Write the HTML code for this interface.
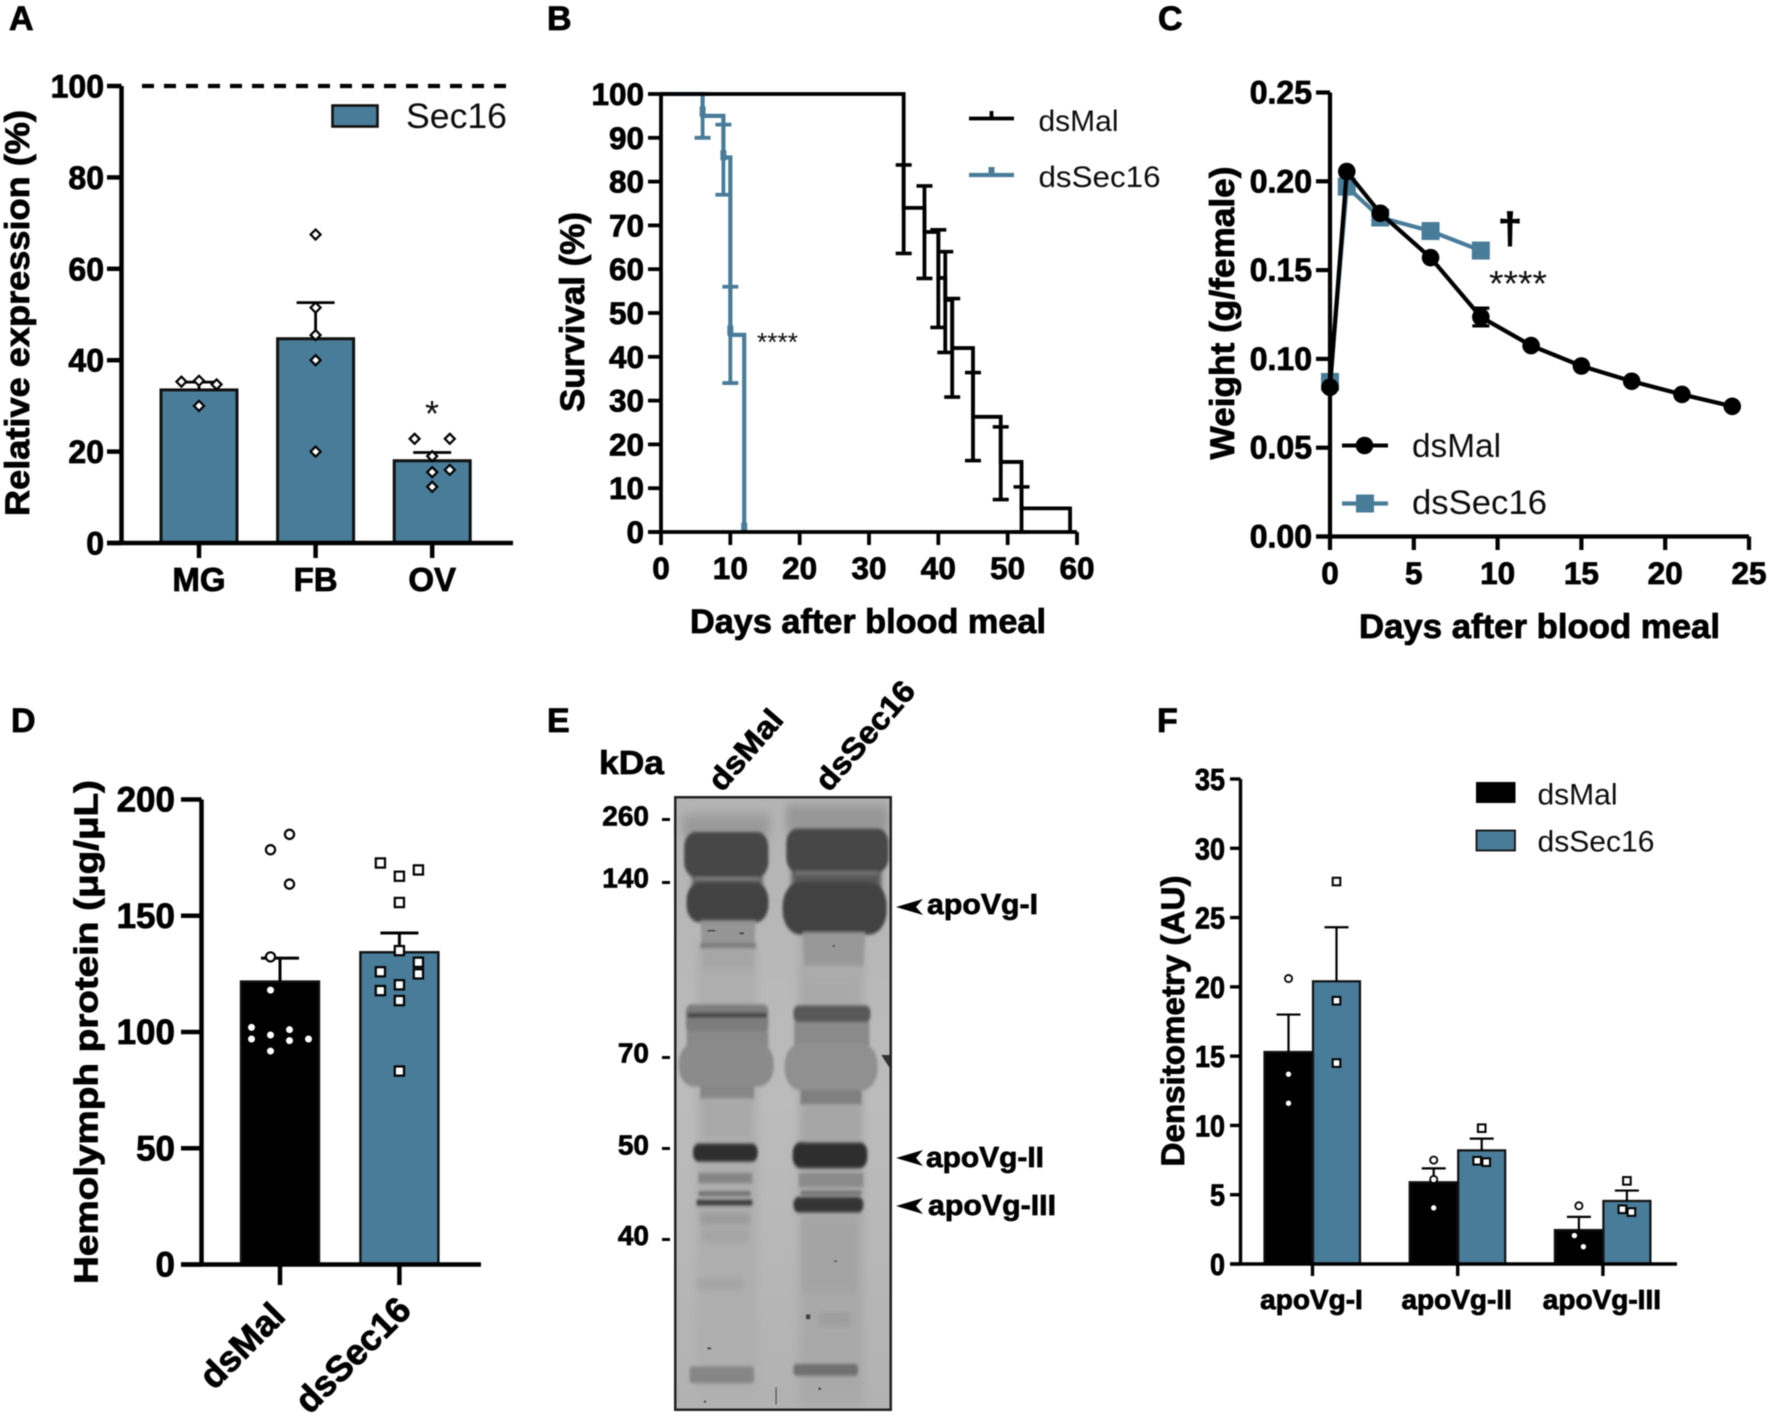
<!DOCTYPE html>
<html lang="en">
<head>
<meta charset="utf-8">
<title>Sec16 figure panels A-F</title>
<style>
html,body{margin:0;padding:0;background:#fff;}
#figure{display:block;width:1772px;height:1417px;font-family:"Liberation Sans",Arial,sans-serif;filter:blur(.45px);}
.bold{font-weight:700;fill:#000;stroke:#000;stroke-width:.8px;}
.reg{font-weight:400;fill:#0c0c0c;}
.gel-label{font-weight:700;fill:#000;stroke:#000;stroke-width:.7px;}
</style>
</head>
<body>
<svg id="figure" xmlns="http://www.w3.org/2000/svg" width="1772" height="1417" viewBox="0 0 1772 1417">
  <defs>
    <filter id="b3" x="-30%" y="-60%" width="160%" height="220%"><feGaussianBlur stdDeviation="3.5"/></filter>
    <filter id="b6" x="-30%" y="-60%" width="160%" height="220%"><feGaussianBlur stdDeviation="7"/></filter>
    <filter id="b12" x="-30%" y="-60%" width="160%" height="220%"><feGaussianBlur stdDeviation="12"/></filter>
    <clipPath id="gelClip"><rect x="674" y="796" width="218" height="615"/></clipPath>
    <linearGradient id="gelBg" x1="0" y1="0" x2="0" y2="1">
      <stop offset="0" stop-color="#b4b4b4"/><stop offset=".5" stop-color="#bcbcbc"/><stop offset="1" stop-color="#b2b2b2"/>
    </linearGradient>
  </defs>

  <!-- panel letters -->
  <text class="bold" x="9" y="30" font-size="34">A</text>
  <text class="bold" x="547" y="30" font-size="34">B</text>
  <text class="bold" x="1158" y="30" font-size="34">C</text>
  <text class="bold" x="11" y="732" font-size="34">D</text>
  <text class="bold" x="547" y="732" font-size="34">E</text>
  <text class="bold" x="1157" y="732" font-size="34">F</text>

  <!-- axis titles and annotations -->
  <text class="bold" transform="translate(29 313) rotate(-90)" text-anchor="middle" font-size="34" textLength="406" lengthAdjust="spacingAndGlyphs">Relative expression (%)</text>
  <text class="reg" x="406" y="128" font-size="35" textLength="101" lengthAdjust="spacingAndGlyphs">Sec16</text>
  <text class="reg" x="432" y="426" text-anchor="middle" font-size="36">*</text>

  <text class="bold" transform="translate(584 312) rotate(-90)" text-anchor="middle" font-size="34" textLength="200" lengthAdjust="spacingAndGlyphs">Survival (%)</text>
  <text class="bold" x="690" y="633" font-size="34" textLength="356" lengthAdjust="spacingAndGlyphs">Days after blood meal</text>
  <text class="reg" x="1038.5" y="131" font-size="30" textLength="80" lengthAdjust="spacingAndGlyphs">dsMal</text>
  <text class="reg" x="1038.5" y="187" font-size="30" textLength="122" lengthAdjust="spacingAndGlyphs">dsSec16</text>
  <text class="reg" x="757" y="351" font-size="26" textLength="41" lengthAdjust="spacingAndGlyphs">****</text>

  <text class="bold" transform="translate(1234 313) rotate(-90)" text-anchor="middle" font-size="34" textLength="293" lengthAdjust="spacingAndGlyphs">Weight (g/female)</text>
  <text class="bold" x="1359" y="638" font-size="34" textLength="361" lengthAdjust="spacingAndGlyphs">Days after blood meal</text>
  <text class="reg" x="1412" y="457" font-size="33" textLength="89" lengthAdjust="spacingAndGlyphs">dsMal</text>
  <text class="reg" x="1412" y="514" font-size="34" textLength="135" lengthAdjust="spacingAndGlyphs">dsSec16</text>
  <text class="bold" x="1510" y="243" text-anchor="middle" font-size="44">†</text>
  <text class="reg" x="1489" y="296" font-size="36" textLength="58" lengthAdjust="spacingAndGlyphs">****</text>

  <text class="bold" transform="translate(97.5 1032) rotate(-90)" text-anchor="middle" font-size="33" textLength="504" lengthAdjust="spacingAndGlyphs">Hemolymph protein (μg/μL)</text>
  <text class="bold" transform="translate(287 1318) rotate(-45)" text-anchor="end" font-size="36" textLength="103" lengthAdjust="spacingAndGlyphs">dsMal</text>
  <text class="bold" transform="translate(413 1312) rotate(-45)" text-anchor="end" font-size="36" textLength="146" lengthAdjust="spacingAndGlyphs">dsSec16</text>

  <text class="bold" transform="translate(1184 1021) rotate(-90)" text-anchor="middle" font-size="32" textLength="291" lengthAdjust="spacingAndGlyphs">Densitometry (AU)</text>
  <text class="reg" x="1537.5" y="804.5" font-size="30" textLength="80" lengthAdjust="spacingAndGlyphs">dsMal</text>
  <text class="reg" x="1537.5" y="851.5" font-size="30" textLength="117" lengthAdjust="spacingAndGlyphs">dsSec16</text>

  <!-- panel E: gel image -->
  <g>
    <text class="gel-label" x="599" y="774" font-size="33" textLength="65" lengthAdjust="spacingAndGlyphs">kDa</text>
    <text class="gel-label" transform="translate(722 793) rotate(-49)" font-size="31" textLength="96" lengthAdjust="spacingAndGlyphs">dsMal</text>
    <text class="gel-label" transform="translate(829 793) rotate(-49)" font-size="31" textLength="134" lengthAdjust="spacingAndGlyphs">dsSec16</text>

    <text class="gel-label" x="649" y="825.5" text-anchor="end" font-size="28">260</text>
    <text class="gel-label" x="649" y="887.5" text-anchor="end" font-size="28">140</text>
    <text class="gel-label" x="649" y="1062.5" text-anchor="end" font-size="28">70</text>
    <text class="gel-label" x="649" y="1154.5" text-anchor="end" font-size="28">50</text>
    <text class="gel-label" x="649" y="1245" text-anchor="end" font-size="28">40</text>
    <g fill="#000">
      <rect x="662" y="818" width="8" height="3"/><rect x="662" y="881" width="8" height="3"/>
      <rect x="662" y="1056" width="8" height="3"/><rect x="662" y="1147" width="8" height="3"/>
      <rect x="662" y="1238" width="8" height="3"/>
    </g>

    <g clip-path="url(#gelClip)">
      <rect x="674" y="796" width="218" height="615" fill="url(#gelBg)"/>
      <g transform="translate(539 680) scale(.3584 .4717)">
        <!-- lane backgrounds -->
        <rect x="440" y="560" width="170" height="950" fill="#aeaeae" filter="url(#b12)"/>
        <rect x="725" y="540" width="180" height="1000" fill="#a9a9a9" filter="url(#b12)"/>
        <rect x="400" y="285" width="245" height="50" fill="#9a9a9a" filter="url(#b12)"/>
        <rect x="690" y="265" width="285" height="60" fill="#969696" filter="url(#b12)"/>
        <!-- lane 1 -->
        <g filter="url(#b6)">
          <rect x="428" y="380" width="195" height="90" fill="#5a5a5a"/>
          <rect x="705" y="370" width="250" height="100" fill="#585858"/>
        </g>
        <g filter="url(#b3)">
          <rect x="405" y="322" width="235" height="96" rx="32" fill="#464646"/>
          <rect x="412" y="430" width="228" height="84" rx="36" fill="#424242"/>
          <path d="M450 510H605L600 570H455Z" fill="#959595"/>
          <rect x="450" y="558" width="155" height="12" fill="#7c7c7c"/>
          <rect x="410" y="688" width="230" height="60" rx="14" fill="#7d7d7d"/>
          <rect x="415" y="706" width="220" height="9" fill="#3a3a3a"/>
          <rect x="412" y="745" width="228" height="32" fill="#898989"/>
          <rect x="390" y="770" width="265" height="92" rx="42" fill="#8b8b8b"/>
          <rect x="450" y="860" width="150" height="28" fill="#868686"/>
          <rect x="430" y="983" width="180" height="38" rx="16" fill="#2d2d2d"/>
          <rect x="445" y="1045" width="150" height="22" fill="#858585"/>
          <rect x="445" y="1084" width="145" height="10" fill="#707070"/>
          <rect x="440" y="1102" width="155" height="12" fill="#3a3a3a"/>
          <rect x="420" y="1455" width="180" height="36" rx="8" fill="#868686"/>
        </g>
        <g filter="url(#b6)">
          <rect x="455" y="572" width="145" height="40" fill="#a6a6a6"/>
          <rect x="460" y="890" width="130" height="80" fill="#a8a8a8"/>
          <rect x="450" y="1130" width="140" height="24" fill="#9b9b9b"/>
          <rect x="455" y="1165" width="130" height="28" fill="#a4a4a4"/>
          <rect x="440" y="1268" width="130" height="24" fill="#a5a5a5"/>
        </g>
        <!-- lane 2 -->
        <g filter="url(#b3)">
          <rect x="690" y="315" width="285" height="92" rx="30" fill="#474747"/>
          <rect x="680" y="428" width="290" height="112" rx="50" fill="#424242"/>
          <path d="M735 535H910L905 607H742Z" fill="#989898"/>
          <rect x="710" y="690" width="215" height="36" rx="14" fill="#585858"/>
          <rect x="712" y="725" width="210" height="50" fill="#8a8a8a"/>
          <rect x="685" y="770" width="260" height="100" rx="46" fill="#909090"/>
          <rect x="730" y="870" width="170" height="30" fill="#7f7f7f"/>
          <rect x="708" y="980" width="208" height="55" rx="22" fill="#2e2e2e"/>
          <rect x="725" y="1045" width="180" height="30" fill="#8a8a8a"/>
          <rect x="730" y="1083" width="170" height="9" fill="#707070"/>
          <rect x="710" y="1096" width="195" height="33" rx="15" fill="#343434"/>
          <rect x="710" y="1450" width="180" height="25" rx="8" fill="#6f6f6f"/>
        </g>
        <g filter="url(#b6)">
          <rect x="745" y="608" width="150" height="30" fill="#acacac"/>
          <rect x="740" y="905" width="155" height="70" fill="#a6a6a6"/>
          <rect x="735" y="1140" width="150" height="160" fill="#a4a4a4"/>
          <rect x="780" y="1340" width="90" height="30" fill="#9f9f9f"/>
        </g>
        <!-- light lines between dark bands -->
        <rect x="435" y="418" width="180" height="6" fill="#828282" filter="url(#b3)"/>
        <rect x="715" y="405" width="230" height="8" fill="#757575" filter="url(#b3)"/>
        <!-- notch and specks -->
        <polygon points="955,795 985,795 985,830" fill="#333"/>
        <g fill="#444">
          <rect x="470" y="1415" width="10" height="4"/><rect x="660" y="1500" width="3" height="36"/>
          <rect x="745" y="1345" width="12" height="10"/><rect x="560" y="535" width="12" height="4"/>
          <rect x="470" y="530" width="22" height="3"/><rect x="825" y="1230" width="5" height="4"/>
          <rect x="820" y="562" width="5" height="4"/><rect x="875" y="498" width="8" height="4"/>
          <rect x="780" y="1500" width="6" height="5"/><rect x="460" y="1528" width="6" height="4"/>
        </g>
      </g>
      <rect x="674" y="796" width="218" height="615" fill="none" stroke="#222" stroke-width="5"/>
    </g>

    <polygon points="923,899 896,907 923,915 916,907" fill="#000"/>
    <polygon points="923,1150 896,1158 923,1166 916,1158" fill="#000"/>
    <polygon points="923,1198 896,1206 923,1214 916,1206" fill="#000"/>
    <text class="gel-label" x="927" y="914" font-size="29" textLength="111" lengthAdjust="spacingAndGlyphs">apoVg-I</text>
    <text class="gel-label" x="926" y="1167" font-size="29" textLength="118" lengthAdjust="spacingAndGlyphs">apoVg-II</text>
    <text class="gel-label" x="928" y="1215" font-size="29" textLength="128" lengthAdjust="spacingAndGlyphs">apoVg-III</text>
  </g>
  <g id="charts"></g>
</svg>

<script>
// ---------- Panel A data ----------
const aCategories = ['MG', 'FB', 'OV'];
const aMeans = [33.5, 44.7, 18];
const aErrorTops = [35.2, 52.6, 19.8];
const aPoints = [[35.3, 35.5, 34.7, 30], [67.5, 51.5, 45.5, 40, 20], [22.8, 22.8, 19, 16, 15.5, 12.3]];
const aSwarmColumns = [[-1, 0, 1, 0], [0, 0, 0, 0, 0], [-1, 1, 0, 1, 0, 0]];
const aYTicks = [0, 20, 40, 60, 80, 100];
const aReferenceLevel = [100];

// ---------- Panel B data ----------
const bXTicks = [0, 10, 20, 30, 40, 50, 60];
const bYTicks = [0, 10, 20, 30, 40, 50, 60, 70, 80, 90, 100];
const bMalDays = [0, 35, 38, 40, 41, 42, 45, 49, 52, 59];
const bMalSurvival = [100, 74, 68.5, 58, 53, 42, 26.3, 16, 5.4, 0];
const bMalErrorDays = [35, 38, 40, 41, 42, 45, 49, 52];
const bMalErrorUpper = [83.8, 79, 69, 64, 53.3, 36.4, 24, 10.3];
const bMalErrorLower = [63.6, 57.9, 46.7, 41, 30.8, 16.3, 7.4, 0];
const bSecDays = [0, 6, 9, 10, 12];
const bSecSurvival = [100, 95, 85.5, 45, 0];
const bSecErrorDays = [6, 9, 10];
const bSecErrorUpper = [100, 93, 56];
const bSecErrorLower = [90, 77, 34];
const bSecCensorDays = [6, 9, 10, 12];
const bSecCensorLevels = [96, 86, 46, 1];

// ---------- Panel C data ----------
const cXTicks = [0, 5, 10, 15, 20, 25];
const cYTicks = ['0.00', '0.05', '0.10', '0.15', '0.20', '0.25'];
const cMalDays = [0, 1, 3, 6, 9, 12, 15, 18, 21, 24];
const cMalWeight = [0.084, 0.2055, 0.182, 0.157, 0.1236, 0.1075, 0.096, 0.0874, 0.08, 0.0733];
const cMalError = [0, 0, 0, 0, 0.005, 0, 0, 0, 0, 0];
const cSecDays = [0, 1, 3, 6, 9];
const cSecWeight = [0.087, 0.197, 0.1796, 0.172, 0.161];

// ---------- Panel D data ----------
const dGroups = ['dsMal', 'dsSec16'];
const dMeans = [121.7, 134.3];
const dErrorTops = [131.8, 142.6];
const dYTicks = [0, 50, 100, 150, 200];
const dMalPoints = [185, 178.4, 163.6, 132.3, 118, 102, 101, 98.7, 97, 96.3, 97, 91.8];
const dMalSwarm = [0.5, -0.5, 0.5, -0.5, -0.5, -1.5, 0.5, -0.5, -1.5, 0.5, 1.5, -0.5];
const dSecPoints = [172.7, 169.7, 167, 155.7, 135, 130, 125.9, 125, 120.3, 117.8, 113.5, 83.2];
const dSecSwarm = [-1, 1, 0, 0, 0, 1, -1, 1, 0, -1, 0, 0];

// ---------- Panel F data ----------
const fCategories = ['apoVg-I', 'apoVg-II', 'apoVg-III'];
const fYTicks = [0, 5, 10, 15, 20, 25, 30, 35];
const fMalMeans = [15.3, 5.9, 2.45];
const fSecMeans = [20.4, 8.2, 4.55];
const fMalErrorTops = [18, 6.9, 3.4];
const fSecErrorTops = [24.3, 9.05, 5.3];
const fMalPoints = [[20.6, 13.7, 11.6], [7.5, 6.1, 4.05], [4.2, 2.05, 1.25]];
const fMalSwarm = [[0, 0, 0], [0, 0, 0], [0, -1, 1]];
const fSecPoints = [[27.6, 19, 14.5], [9.8, 7.45, 7.35], [6, 3.95, 3.75]];
const fSecSwarm = [[0, 0, 0], [0, -1, 1], [0, -1, 1]];

// ---------- helpers ----------
const TEAL = '#497c99';
const INK = '#000';
const svgNS = 'http://www.w3.org/2000/svg';
const root = document.getElementById('charts');

function linear(d0, d1, r0, r1) {
  return function (v) { return r0 + (v - d0) * (r1 - r0) / (d1 - d0); };
}
function mk(tag, props, parent) {
  const el = document.createElementNS(svgNS, tag);
  for (const k in props) el.setAttribute(k, props[k]);
  (parent || root).appendChild(el);
  return el;
}
function tag(el, name) {
  
  
  return el;
}
function line(x1, y1, x2, y2, color, w, name) {
  return tag(mk('line', { x1: x1, y1: y1, x2: x2, y2: y2, stroke: color, 'stroke-width': w }), name);
}
function rect(x, y, w, h, fill, stroke, sw, name) {
  return tag(mk('rect', { x: x, y: y, width: w, height: h, fill: fill, stroke: stroke, 'stroke-width': sw }), name);
}
function label(str, x, y, size, anchor, name, len) {
  const t = mk('text', { x: x, y: y, 'font-size': size, 'text-anchor': anchor, 'class': 'bold' });
  if (len) {
    t.setAttribute('textLength', len);
    t.setAttribute('lengthAdjust', 'spacingAndGlyphs');
  }
  t.textContent = str;
  return tag(t, name);
}
function steps(xs, ys) {
  let d = 'M' + xs[0] + ' ' + ys[0];
  for (let i = 1; i < xs.length; i++) d += 'H' + xs[i] + 'V' + ys[i];
  return d;
}
function errorBar(x, yTop, yBottom, halfCap, color, w, name) {
  line(x, yTop, x, yBottom, color, w, name + '-stem');
  line(x - halfCap, yTop, x + halfCap, yTop, color, w, name + '-cap');
}

// ---------- Panel A ----------
(function () {
  const y = linear(0, 100, 543, 86);
  const x = function (i) { return 199 + i * 116.6; };
  const axisX = 121.5;
  aCategories.forEach(function (c, i) {
    rect(x(i) - 38, y(aMeans[i]), 76, y(0) - y(aMeans[i]), TEAL, '#111', 3, 'a-bar-' + c);
    errorBar(x(i), y(aErrorTops[i]), y(aMeans[i]), 19, INK, 2.8, 'a-error-' + c);
  });
  aPoints.forEach(function (vals, i) {
    vals.forEach(function (v, j) {
      const cx = x(i) + aSwarmColumns[i][j] * 17.6;
      const cy = y(v);
      const p = mk('polygon', {
        points: cx + ',' + (cy - 5) + ' ' + (cx + 5) + ',' + cy + ' ' + cx + ',' + (cy + 5) + ' ' + (cx - 5) + ',' + cy,
        fill: '#fff', stroke: INK, 'stroke-width': 2.2
      });
      tag(p, 'a-point-' + aCategories[i]);
    });
  });
  line(axisX, y(0), axisX, y(100), INK, 4.5, 'a-y-axis');
  line(107, y(0), 513, y(0), INK, 4.5, 'a-x-axis');
  aYTicks.forEach(function (t) {
    line(107, y(t), axisX, y(t), INK, 4.5, 'a-y-tick');
    label(String(t), 104, y(t) + 11.5, 32, 'end', 'a-y-tick-label');
  });
  aCategories.forEach(function (c, i) {
    line(x(i), y(0), x(i), 558, INK, 4.5, 'a-x-tick');
    label(c, x(i), 591, 33, 'middle', 'a-x-tick-label');
  });
  const ref = line(142, y(aReferenceLevel[0]), 510, y(aReferenceLevel[0]), INK, 4.2, 'a-reference-line');
  ref.setAttribute('stroke-dasharray', '12 10');
  rect(332.5, 105.5, 45, 21, TEAL, '#111', 2.6, 'a-legend-swatch');
})();

// ---------- Panel B ----------
(function () {
  const x = linear(0, 60, 661, 1077);
  const y = linear(0, 100, 532, 94);
  const secPath = mk('path', { d: steps(bSecDays.map(x), bSecSurvival.map(y)), fill: 'none', stroke: TEAL, 'stroke-width': 4.2 });
  tag(secPath, 'b-curve-dssec16');
  bSecErrorDays.forEach(function (d, i) {
    line(x(d), y(bSecErrorUpper[i]), x(d), y(bSecErrorLower[i]), TEAL, 3.8, 'b-error-stem-dssec16');
    line(x(d) - 8, y(bSecErrorUpper[i]), x(d) + 8, y(bSecErrorUpper[i]), TEAL, 3.8, 'b-error-cap-dssec16');
    line(x(d) - 8, y(bSecErrorLower[i]), x(d) + 8, y(bSecErrorLower[i]), TEAL, 3.8, 'b-error-cap-dssec16');
  });
  bSecCensorDays.forEach(function (d, i) {
    rect(x(d) - 3, y(bSecCensorLevels[i]) - 5, 6, 10, TEAL, 'none', 0, 'b-censor-dssec16');
  });
  const malPath = mk('path', { d: steps(bMalDays.map(x), bMalSurvival.map(y)), fill: 'none', stroke: INK, 'stroke-width': 3.8 });
  tag(malPath, 'b-curve-dsmal');
  bMalErrorDays.forEach(function (d, i) {
    line(x(d), y(bMalErrorUpper[i]), x(d), y(bMalErrorLower[i]), INK, 3.8, 'b-error-stem-dsmal');
    line(x(d) - 8, y(bMalErrorUpper[i]), x(d) + 8, y(bMalErrorUpper[i]), INK, 3.6, 'b-error-cap-dsmal');
    line(x(d) - 8, y(bMalErrorLower[i]), x(d) + 8, y(bMalErrorLower[i]), INK, 3.6, 'b-error-cap-dsmal');
  });
  line(x(0), y(0), x(0), y(100), INK, 3.8, 'b-y-axis');
  line(648, y(0), x(60), y(0), INK, 3.8, 'b-x-axis');
  bYTicks.forEach(function (t) {
    line(648, y(t), x(0), y(t), INK, 3.8, 'b-y-tick');
    label(String(t), 644, y(t) + 11, 31.5, 'end', 'b-y-tick-label');
  });
  bXTicks.forEach(function (t) {
    line(x(t), y(0), x(t), 545, INK, 3.8, 'b-x-tick');
    label(String(t), x(t), 579, 31.5, 'middle', 'b-x-tick-label');
  });
  line(969, 118.5, 1014, 118.5, INK, 3.8, 'b-legend-line-dsmal');
  line(991.5, 111, 991.5, 118.5, INK, 3.8, 'b-legend-tick-dsmal');
  line(969, 175, 1014, 175, TEAL, 4.2, 'b-legend-line-dssec16');
  rect(988.5, 167, 6, 8, TEAL, 'none', 0, 'b-legend-tick-dssec16');
})();

// ---------- Panel C ----------
(function () {
  const x = linear(0, 25, 1330, 1749);
  const y = linear(0, 0.25, 536.5, 92.5);
  const pts = function (xs, ys) { return xs.map(function (d, i) { return x(d) + ',' + y(ys[i]); }).join(' '); };
  const secLine = mk('polyline', { points: pts(cSecDays, cSecWeight), fill: 'none', stroke: TEAL, 'stroke-width': 4.2 });
  tag(secLine, 'c-line-dssec16');
  cSecDays.forEach(function (d, i) {
    rect(x(d) - 9, y(cSecWeight[i]) - 9, 18, 18, TEAL, 'none', 0, 'c-marker-dssec16');
  });
  line(x(0), y(0), x(0), y(0.25), INK, 4.2, 'c-y-axis');
  line(1316, y(0), x(25), y(0), INK, 4.2, 'c-x-axis');
  const malLine = mk('polyline', { points: pts(cMalDays, cMalWeight), fill: 'none', stroke: INK, 'stroke-width': 4.2 });
  tag(malLine, 'c-line-dsmal');
  cMalDays.forEach(function (d, i) {
    if (cMalError[i] > 0) {
      line(x(d), y(cMalWeight[i] + cMalError[i]), x(d), y(cMalWeight[i] - cMalError[i]), INK, 3.2, 'c-error-stem-dsmal');
      line(x(d) - 8.5, y(cMalWeight[i] + cMalError[i]), x(d) + 8.5, y(cMalWeight[i] + cMalError[i]), INK, 3.2, 'c-error-cap-dsmal');
      line(x(d) - 8.5, y(cMalWeight[i] - cMalError[i]), x(d) + 8.5, y(cMalWeight[i] - cMalError[i]), INK, 3.2, 'c-error-cap-dsmal');
    }
    const c = mk('circle', { cx: x(d), cy: y(cMalWeight[i]), r: 8.8, fill: INK });
    tag(c, 'c-marker-dsmal');
  });
  cYTicks.forEach(function (t) {
    line(1316, y(+t), x(0), y(+t), INK, 4.2, 'c-y-tick');
    label(t, 1312, y(+t) + 11, 32, 'end', 'c-y-tick-label');
  });
  cXTicks.forEach(function (t) {
    line(x(t), y(0), x(t), 550, INK, 4.2, 'c-x-tick');
    label(String(t), x(t), 584, 31.5, 'middle', 'c-x-tick-label');
  });
  line(1342, 445.5, 1388, 445.5, INK, 4, 'c-legend-line-dsmal');
  const lc = mk('circle', { cx: 1364.5, cy: 445.5, r: 8.8, fill: INK });
  tag(lc, 'c-legend-marker-dsmal');
  line(1342, 503.5, 1388, 503.5, TEAL, 4.2, 'c-legend-line-dssec16');
  rect(1356, 494.5, 18, 18, TEAL, 'none', 0, 'c-legend-marker-dssec16');
})();

// ---------- Panel D ----------
(function () {
  const y = linear(0, 200, 1264.5, 799.5);
  const x = function (i) { return 280 + i * 119.4; };
  const fills = [INK, TEAL];
  dGroups.forEach(function (g, i) {
    rect(x(i) - 39, y(dMeans[i]), 78, y(0) - y(dMeans[i]), fills[i], '#111', 2.4, 'd-bar-' + g);
    errorBar(x(i), y(dErrorTops[i]), y(dMeans[i]), 19, INK, 3, 'd-error-' + g);
  });
  dMalPoints.forEach(function (v, j) {
    const c = mk('circle', { cx: x(0) + dMalSwarm[j] * 19, cy: y(v), r: 4.6, fill: '#fff', stroke: INK, 'stroke-width': 2.2 });
    tag(c, 'd-point-dsmal');
  });
  dSecPoints.forEach(function (v, j) {
    rect(x(1) + dSecSwarm[j] * 19 - 4.6, y(v) - 4.6, 9.2, 9.2, '#fff', INK, 2.2, 'd-point-dssec16');
  });
  line(201.5, y(0), 201.5, y(200), INK, 4.5, 'd-y-axis');
  line(181, y(0), 481, y(0), INK, 4.5, 'd-x-axis');
  dYTicks.forEach(function (t) {
    line(181, y(t), 201.5, y(t), INK, 4.5, 'd-y-tick');
    label(String(t), 175, y(t) + 12, 35, 'end', 'd-y-tick-label');
  });
  dGroups.forEach(function (g, i) {
    line(x(i), y(0), x(i), 1285, INK, 4.5, 'd-x-tick');
  });
})();

// ---------- Panel F ----------
(function () {
  const y = linear(0, 35, 1264, 779);
  const x = function (i) { return 1312.5 + i * 145.2; };
  const series = [
    { key: 'dsmal', fill: INK, means: fMalMeans, tops: fMalErrorTops, pts: fMalPoints, swarm: fMalSwarm, off: -24, w: 48 },
    { key: 'dssec16', fill: TEAL, means: fSecMeans, tops: fSecErrorTops, pts: fSecPoints, swarm: fSecSwarm, off: 24, w: 47 }
  ];
  series.forEach(function (s) {
    fCategories.forEach(function (c, i) {
      const cx = x(i) + s.off;
      rect(cx - s.w / 2, y(s.means[i]), s.w, y(0) - y(s.means[i]), s.fill, '#111', 2.2, 'f-bar-' + s.key + '-' + c);
      errorBar(cx, y(s.tops[i]), y(s.means[i]), 12, INK, 2.2, 'f-error-' + s.key + '-' + c);
      s.pts[i].forEach(function (v, j) {
        const px = cx + s.swarm[i][j] * 4.5;
        if (s.key === 'dsmal') {
          const m = mk('circle', { cx: px, cy: y(v), r: 3.6, fill: '#fff', stroke: INK, 'stroke-width': 1.8 });
          tag(m, 'f-point-dsmal-' + c);
        } else {
          rect(px - 3.8, y(v) - 3.8, 7.6, 7.6, '#fff', INK, 2, 'f-point-dssec16-' + c);
        }
      });
    });
  });
  line(1240.5, y(0), 1240.5, y(35), INK, 3.4, 'f-y-axis');
  line(1230, y(0), 1677, y(0), INK, 3.4, 'f-x-axis');
  fYTicks.forEach(function (t) {
    line(1230, y(t), 1240.5, y(t), INK, 3.4, 'f-y-tick');
    const s = String(t);
    label(s, 1225, y(t) + 11, 31, 'end', 'f-y-tick-label', s.length * 15);
  });
  fCategories.forEach(function (c, i) {
    line(x(i), y(0), x(i), 1276, INK, 3.4, 'f-x-tick');
    label(c, x(i) - 1, 1309, 28, 'middle', 'f-x-tick-label');
  });
  rect(1476, 782, 39.5, 21, INK, 'none', 0, 'f-legend-swatch-dsmal');
  rect(1476.5, 830.5, 38.5, 20, TEAL, '#111', 1.8, 'f-legend-swatch-dssec16');
})();
</script>
</body>
</html>
